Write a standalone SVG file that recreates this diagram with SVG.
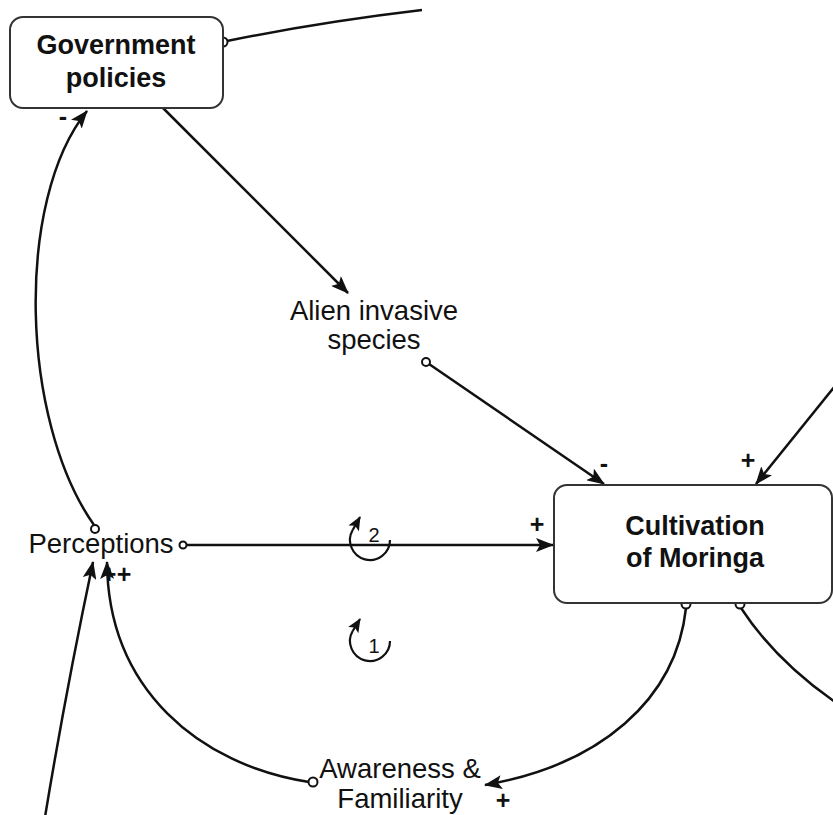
<svg xmlns="http://www.w3.org/2000/svg" width="833" height="815" viewBox="0 0 833 815">
<defs>
<style>
.box{fill:#fff;stroke:#333;stroke-width:2}
.bt{font-family:"Liberation Sans",Arial,sans-serif;font-weight:bold;font-size:27px;fill:#111;text-anchor:middle}
.lt{font-family:"Liberation Sans",Arial,sans-serif;font-size:27.5px;fill:#111;text-anchor:middle}
.pol{font-family:"Liberation Sans",Arial,sans-serif;font-weight:bold;font-size:25px;fill:#111;text-anchor:middle}
.lp{font-family:"Liberation Sans",Arial,sans-serif;font-size:20px;fill:#111;text-anchor:middle}
.c{fill:none;stroke:#111;stroke-width:2.5}
.cl{fill:none;stroke:#111;stroke-width:2.2}
.o{fill:#fff;stroke:#111;stroke-width:2}
</style>
<marker id="ah" markerUnits="userSpaceOnUse" markerWidth="18" markerHeight="14" refX="17" refY="7" orient="auto">
<path d="M0,0 L18,7 L0,14 L4,7 Z" fill="#111"/>
</marker>
<marker id="ahs" markerUnits="userSpaceOnUse" markerWidth="14" markerHeight="12" refX="13" refY="6" orient="auto">
<path d="M0,0 L14,6 L0,12 L3,6 Z" fill="#111"/>
</marker>
</defs>

<g id="connectors">
<path class="c" d="M227,41 Q320,22 422,10"/>
<path class="c" d="M162,107 L348,293" marker-end="url(#ah)"/>
<path class="c" d="M429,364 L604,484" marker-end="url(#ah)"/>
<path class="c" d="M835,386 L756,484" marker-end="url(#ah)"/>
<path class="c" d="M186,545 L553,545" marker-end="url(#ah)"/>
<path class="c" d="M94,525 C20,420 15,200 87,111" marker-end="url(#ah)"/>
<path class="c" d="M45,817 Q66,690 93,562" marker-end="url(#ah)"/>
<path class="c" d="M309,782 C200,765 108,690 107,562" marker-end="url(#ah)"/>
<path class="c" d="M686,608 C676,700 600,765 485,785" marker-end="url(#ah)"/>
<path class="c" d="M741,608 Q775,660 835,702"/>
<circle class="o" cx="223" cy="42" r="4.5"/>
<circle class="o" cx="160" cy="103" r="4.5"/>
<circle class="o" cx="426" cy="362" r="4"/>
<circle class="o" cx="183" cy="545" r="3.5"/>
<circle class="o" cx="95" cy="529" r="4"/>
<circle class="o" cx="313" cy="782" r="4.5"/>
<circle class="o" cx="686" cy="604" r="4.5"/>
<circle class="o" cx="740" cy="604" r="4.5"/>
<text class="pol" x="63" y="125">-</text>
<text class="pol" x="604" y="472">-</text>
<text class="pol" x="748" y="469">+</text>
<text class="pol" x="537" y="533">+</text>
<text class="pol" x="109" y="583">+</text>
<text class="pol" x="124" y="583">+</text>
<text class="pol" x="503" y="809">+</text>
</g>

<g id="gov">
<rect class="box" x="10" y="17" width="213" height="91" rx="13"/>
<text class="bt" x="116" y="54">Government</text>
<text class="bt" x="116" y="87">policies</text>
</g>

<g id="alien">
<text class="lt" x="374" y="320">Alien invasive</text>
<text class="lt" x="374" y="349">species</text>
</g>

<g id="cultivation">
<rect class="box" x="554" y="485" width="278" height="118" rx="13"/>
<text class="bt" x="695" y="535">Cultivation</text>
<text class="bt" x="695" y="567">of Moringa</text>
</g>

<g id="perceptions">
<text class="lt" x="101" y="553">Perceptions</text>
</g>

<g id="awareness">
<text class="lt" x="400" y="778">Awareness &amp;</text>
<text class="lt" x="400" y="808">Familiarity</text>
</g>

<g id="loop2">
<path class="cl" d="M390,540 A20,20 0 1 1 352.7,530"/>
<path class="cl" d="M352.7,530 L360,517" marker-end="url(#ahs)"/>
<text class="lp" x="374" y="542">2</text>
</g>

<g id="loop1">
<path class="cl" d="M390,641 A20,20 0 1 1 352.7,631"/>
<path class="cl" d="M352.7,631 L360,619" marker-end="url(#ahs)"/>
<text class="lp" x="374" y="653">1</text>
</g>
</svg>
